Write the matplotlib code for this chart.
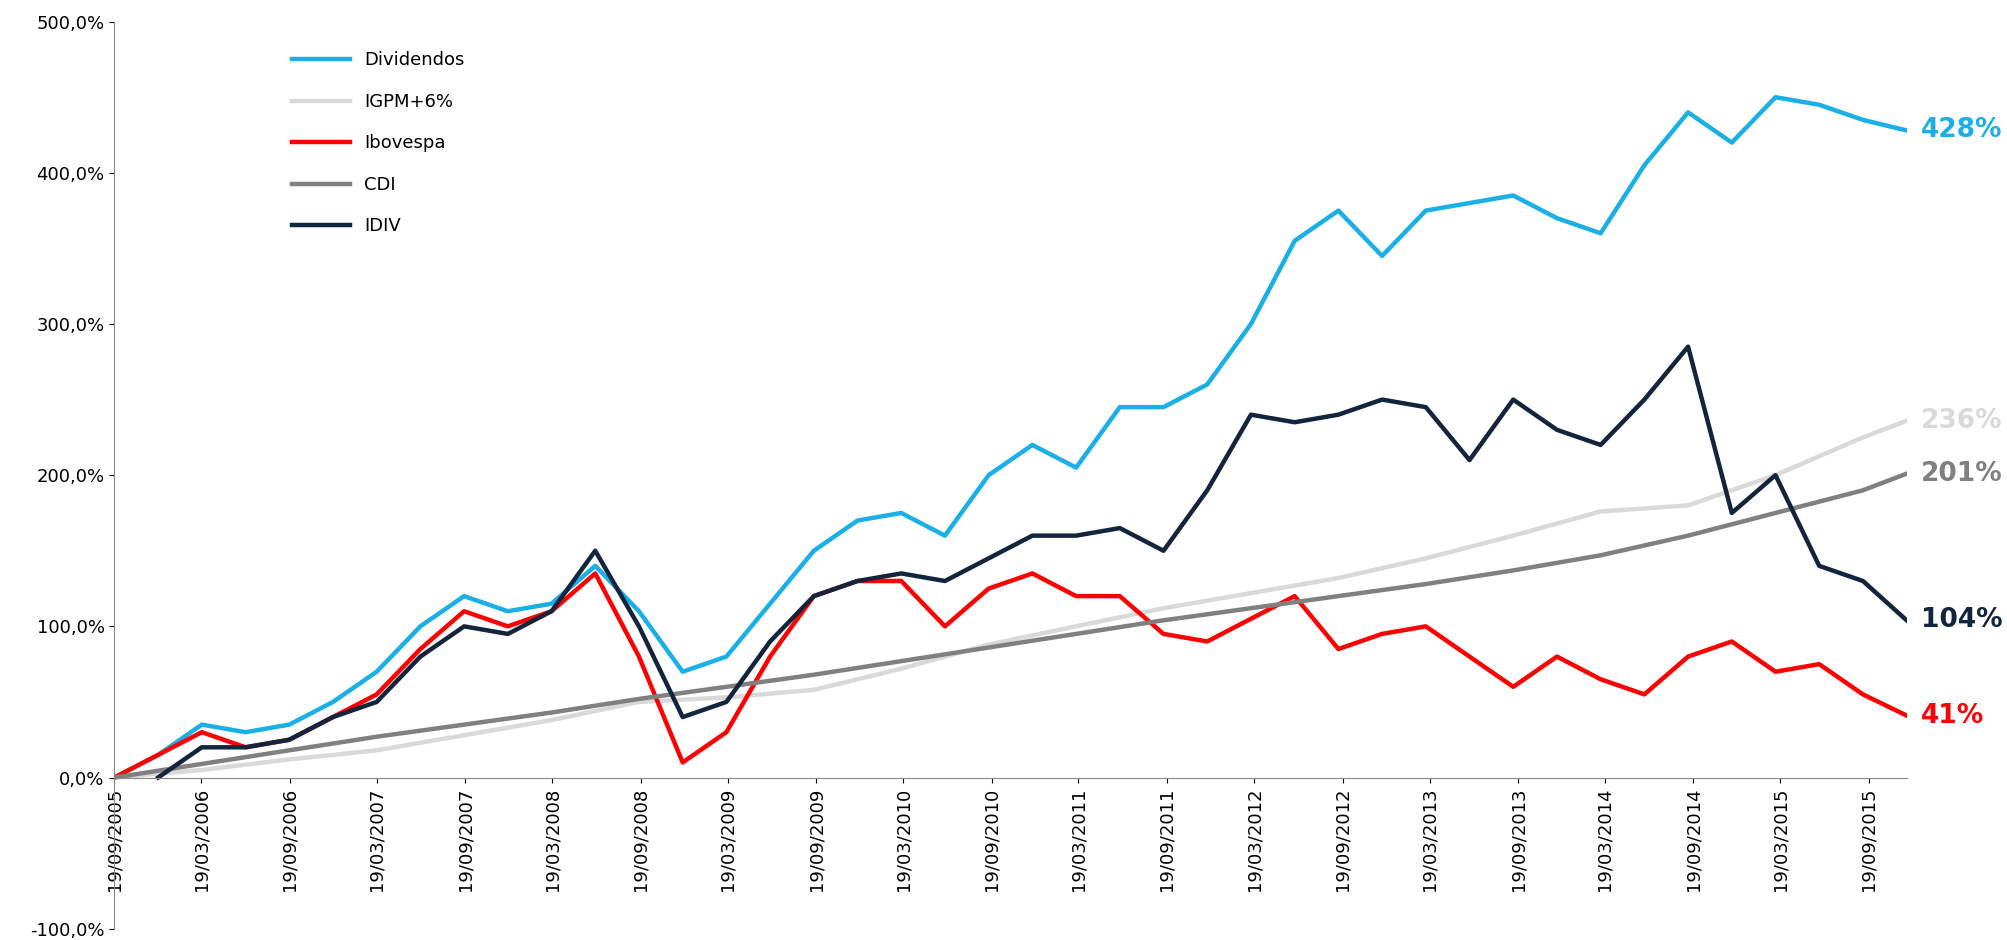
import pandas as pd
import numpy as np
import matplotlib
matplotlib.use("Agg")
import matplotlib.pyplot as plt
import matplotlib.dates as mdates
from matplotlib.ticker import FuncFormatter

# quarterly observations starting 19/09/2005 (values in %)
dates = pd.date_range("2005-09-19", periods=42, freq="91D")

dividendos = [0, 15, 35, 30, 35, 50, 70, 100, 120, 110, 115, 140, 110, 70, 80, 115,
              150, 170, 175, 160, 200, 220, 205, 245, 245, 260, 300, 355, 375, 345,
              375, 380, 385, 370, 360, 405, 440, 420, 450, 445, 435, 428]
ibovespa = [0, 15, 30, 20, 25, 40, 55, 85, 110, 100, 110, 135, 80, 10, 30, 80,
            120, 130, 130, 100, 125, 135, 120, 120, 95, 90, 105, 120, 85, 95,
            100, 80, 60, 80, 65, 55, 80, 90, 70, 75, 55, 41]
idiv = [np.nan, 0, 20, 20, 25, 40, 50, 80, 100, 95, 110, 150, 100, 40, 50, 90,
        120, 130, 135, 130, 145, 160, 160, 165, 150, 190, 240, 235, 240, 250,
        245, 210, 250, 230, 220, 250, 285, 175, 200, 140, 130, 104]
# semiannual points for the smooth series
igpm = [0, 5, 12, 18, 28, 38, 50, 53, 58, 72, 88, 100, 112, 122, 132, 145,
        160, 176, 180, 200, 225]
igpm_end = 236
cdi = [0, 9, 18, 27, 35, 43, 52, 60, 68, 77, 86, 95, 104, 112, 120, 128,
       137, 147, 160, 175, 190]
cdi_end = 201

semi_dates = list(dates[::2]) + [dates[-1]]
igpm_all = igpm + [igpm_end]
cdi_all = cdi + [cdi_end]

c_div, c_igpm, c_ibov, c_cdi, c_idiv = "#1AAFE6", "#D9D9D9", "#FF0000", "#808080", "#13243D"

fig = plt.figure(figsize=(20.07, 9.4), dpi=100)
ax = fig.add_axes([0.057, 0.012, 0.893, 0.965])

ax.plot(dates, dividendos, color=c_div, lw=3.2, label="Dividendos")
ax.plot(semi_dates, igpm_all, color=c_igpm, lw=3.2, label="IGPM+6%")
ax.plot(dates, ibovespa, color=c_ibov, lw=3.2, label="Ibovespa")
ax.plot(semi_dates, cdi_all, color=c_cdi, lw=3.2, label="CDI")
ax.plot(dates, idiv, color=c_idiv, lw=3.2, label="IDIV")

ax.set_ylim(-100, 500)
ax.set_yticks(range(-100, 501, 100))
ax.yaxis.set_major_formatter(FuncFormatter(lambda v, p: f"{v:.1f}%".replace(".", ",")))
ax.set_xlim(dates[0], dates[-1])

ticks = []
for yr in range(2005, 2016):
    if yr > 2005:
        ticks.append(pd.Timestamp(yr, 3, 19))
    ticks.append(pd.Timestamp(yr, 9, 19))
ax.set_xticks(ticks)
ax.xaxis.set_major_formatter(mdates.DateFormatter("%d/%m/%Y"))
ax.tick_params(axis="x", labelrotation=90)
ax.tick_params(axis="both", labelsize=13)

ax.spines["top"].set_visible(False)
ax.spines["right"].set_visible(False)
ax.spines["bottom"].set_position(("data", 0))
ax.spines["left"].set_color("#888888")
ax.spines["bottom"].set_color("#888888")

ends = [(dividendos[-1], "428%", c_div), (igpm_end, "236%", c_igpm), (cdi_end, "201%", c_cdi),
        (idiv[-1], "104%", c_idiv), (ibovespa[-1], "41%", c_ibov)]
for v, t, c in ends:
    ax.annotate(t, xy=(dates[-1], v), xytext=(10, 0), textcoords="offset points",
                va="center", ha="left", fontsize=19, fontweight="bold", color=c,
                annotation_clip=False)

leg = ax.legend(loc="upper left", bbox_to_anchor=(0.09, 0.985), frameon=False,
                fontsize=13, handlelength=3.2, labelspacing=1.3)

fig.savefig("out.png")
